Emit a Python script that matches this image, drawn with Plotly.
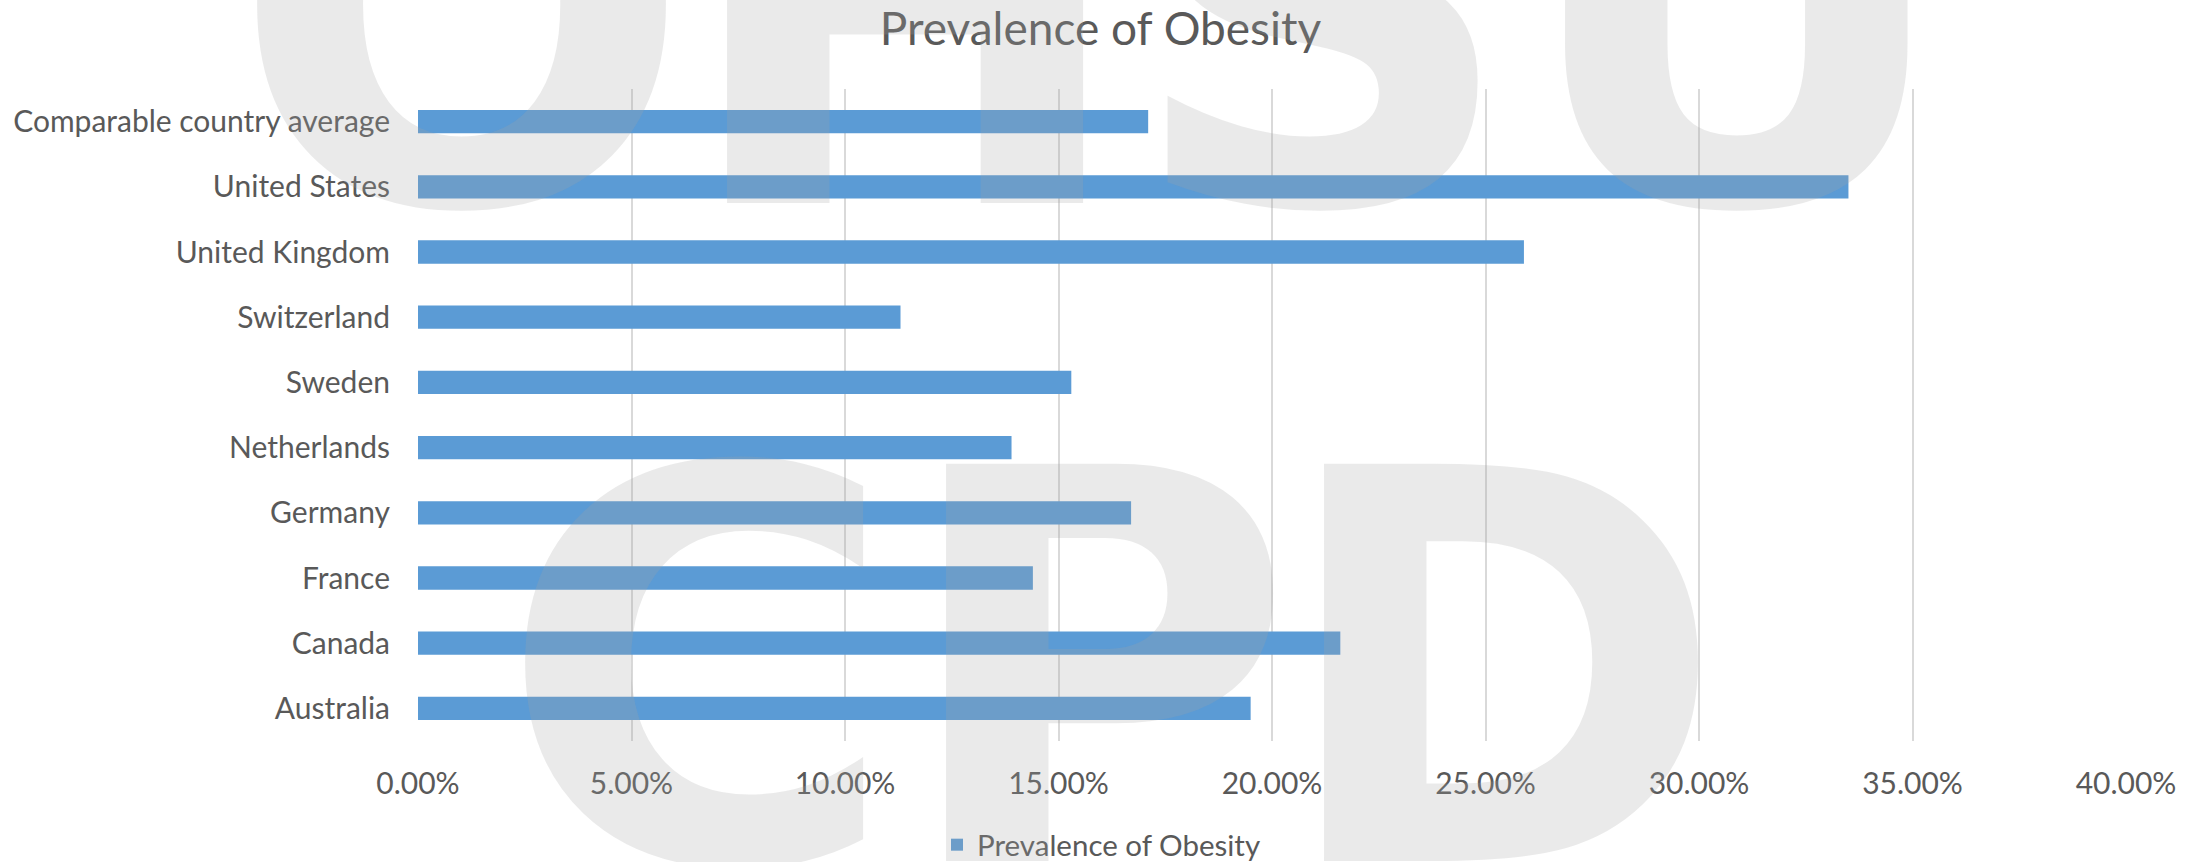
import plotly.graph_objects as go

# Obesity prevalence by country (percent of population)
countries = [
    "Australia",
    "Canada",
    "France",
    "Germany",
    "Netherlands",
    "Sweden",
    "Switzerland",
    "United Kingdom",
    "United States",
    "Comparable country average",
]
obesity_pct = [19.5, 21.6, 14.4, 16.7, 13.9, 15.3, 11.3, 25.9, 33.5, 17.1]
x_ticks_pct = [0, 5, 10, 15, 20, 25, 30, 35, 40]
series_name = "Prevalence of Obesity"
chart_title = "Prevalence of Obesity"
watermark_top = "OHSU"
watermark_bottom = "CPD"

# Shares as fractions so the axis can format them as percentages
obesity_share = [v / 100 for v in obesity_pct]
x_ticks = [v / 100 for v in x_ticks_pct]

# Canvas and plot-area geometry (pixels)
W, H = 2201, 862
M_L, M_R, M_T, M_B = 418, 75, 89, 121
PLOT_W = W - M_L - M_R
PLOT_H = H - M_T - M_B


def paper_x(px):
    return (px - M_L) / PLOT_W


def paper_y(py):
    return (H - M_B - py) / PLOT_H


TEXT = "#595959"
FONT = "Lato, 'Open Sans', sans-serif"
BAR = "#5B9BD5"
GRID = "#D9D9D9"

fig = go.Figure(
    go.Bar(
        y=countries,
        x=obesity_share,
        orientation="h",
        name=series_name,
        marker=dict(color=BAR, line=dict(width=0)),
        showlegend=True,
    )
)

fig.update_layout(
    width=W,
    height=H,
    margin=dict(l=M_L, r=M_R, t=M_T, b=M_B, pad=0, autoexpand=False),
    paper_bgcolor="white",
    plot_bgcolor="white",
    bargap=0.643,
    font=dict(family=FONT, color=TEXT, size=30),
    title=dict(
        text=chart_title,
        x=0.5,
        xref="container",
        xanchor="center",
        y=1 - 13 / H,
        yref="container",
        yanchor="top",
        font=dict(family=FONT, color=TEXT, size=46),
    ),
    xaxis=dict(
        range=[0, 0.40],
        tickvals=x_ticks,
        tickformat=".2%",
        showgrid=True,
        gridcolor=GRID,
        gridwidth=2,
        zeroline=False,
        showline=False,
        ticks="",
        ticklabelstandoff=22,
        tickfont=dict(family=FONT, color=TEXT, size=30),
        fixedrange=True,
    ),
    yaxis=dict(
        type="category",
        categoryorder="array",
        categoryarray=countries,
        range=[-0.5, len(countries) - 0.5],
        showgrid=False,
        zeroline=False,
        showline=False,
        ticks="",
        ticklabelstandoff=27,
        tickfont=dict(family=FONT, color=TEXT, size=30),
        fixedrange=True,
    ),
    legend=dict(
        orientation="h",
        x=paper_x(937),
        xanchor="left",
        y=paper_y(845),
        yanchor="middle",
        font=dict(family=FONT, color=TEXT, size=29.5),
        bgcolor="rgba(0,0,0,0)",
    ),
)

# Large translucent watermark lettering laid over the chart
WM_SIZE = 545
WM_FONT = dict(family="'DejaVu Sans', sans-serif", size=WM_SIZE,
               color="rgba(166,166,166,0.23)", weight="bold")
top_centers = [461, 905, 1321, 1736]
bottom_centers = [698, 1095, 1500]
top_mid_y = 14
bottom_mid_y = 672

for letter, cx in zip(watermark_top, top_centers):
    fig.add_annotation(
        text=letter, x=paper_x(cx), y=paper_y(top_mid_y), xref="paper", yref="paper",
        xanchor="center", yanchor="middle", showarrow=False, font=WM_FONT,
    )
for letter, cx in zip(watermark_bottom, bottom_centers):
    fig.add_annotation(
        text=letter, x=paper_x(cx), y=paper_y(bottom_mid_y), xref="paper", yref="paper",
        xanchor="center", yanchor="middle", showarrow=False, font=WM_FONT,
    )

fig.write_html("out.html")
